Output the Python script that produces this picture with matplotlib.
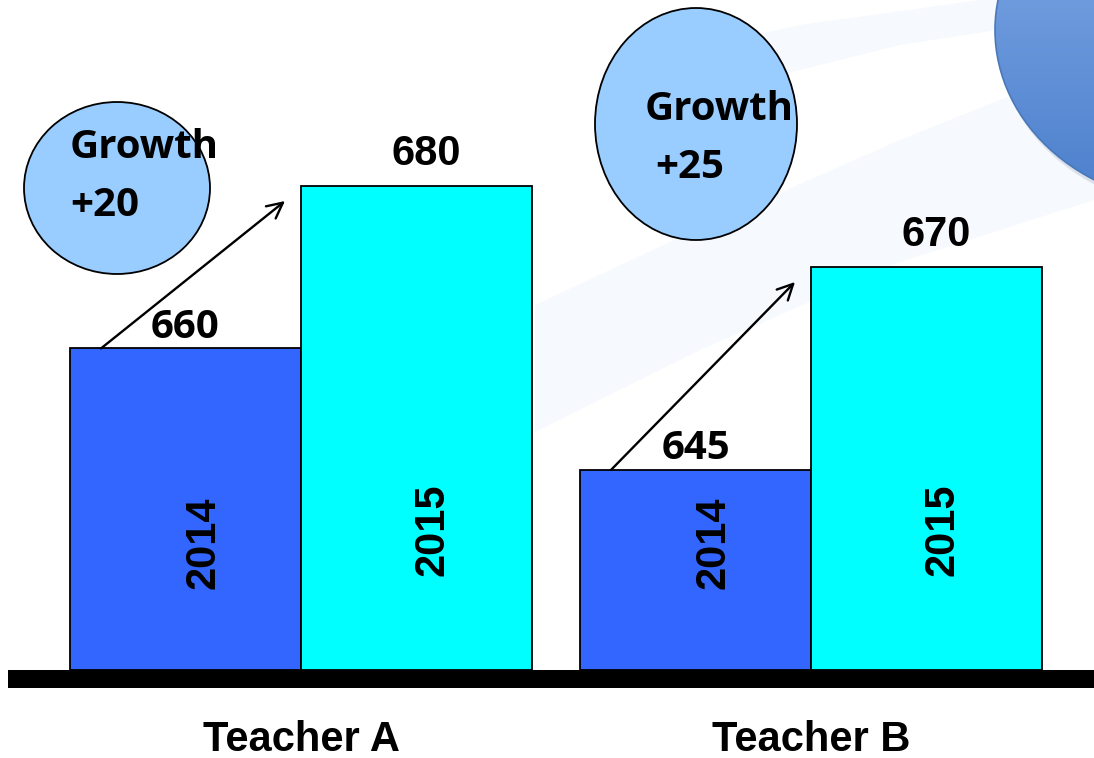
import numpy as np
import matplotlib.pyplot as plt
from matplotlib.colors import LinearSegmentedColormap
from matplotlib.patches import Ellipse, Rectangle, Polygon

# scores per teacher and year
teachers = ['Teacher A', 'Teacher B']
years = ['2014', '2015']
scores_2014 = [660, 645]
scores_2015 = [680, 670]
growth = [20, 25]

W, H = 1094, 758
fig = plt.figure(figsize=(W / 100, H / 100), dpi=100)
fig.patch.set_facecolor('white')

# background layer in pixel coordinates
bg = fig.add_axes([0, 0, 1, 1])
bg.axis('off')

# faint swoosh bands
band1 = [(535, 305), (700, 228), (900, 140), (1094, 62),
         (1094, 200), (900, 262), (700, 350), (535, 432)]
band2 = [(600, 70), (800, 25), (980, 0), (1094, 0),
         (1094, 15), (900, 45), (700, 95), (600, 125)]
for band in (band1, band2):
    bg.add_patch(Polygon(band, closed=True, facecolor='#f6f9fd',
                         edgecolor='none', zorder=0))

# blue ball in the corner with a soft shadow
bg.add_patch(Ellipse((1203, 35), 412, 352, facecolor='#c9d2de',
                     edgecolor='none', alpha=0.6, zorder=1))
ball_cmap = LinearSegmentedColormap.from_list('ball', ['#88afeb', '#4a7ecb'])
grad = np.linspace(0, 1, 256).reshape(-1, 1)
img = bg.imshow(grad, cmap=ball_cmap, extent=(990, 1410, 210, -150),
                aspect='auto', zorder=2)
img.set_clip_path(Ellipse((1200, 30), 410, 350, transform=bg.transData))
bg.add_patch(Ellipse((1200, 30), 410, 350, facecolor='none',
                     edgecolor='#4a78b8', lw=1.2, zorder=3))
bg.set_xlim(0, W)
bg.set_ylim(H, 0)

# ground bar
bg.add_patch(Rectangle((8, 670), W - 8, 18, facecolor='black',
                       edgecolor='none', zorder=2))

# growth bubbles
bubbles = [((117, 188), 186, 172), ((696, 124), 202, 232)]
word_pos = [(70, 148), (645, 110)]
num_pos = [(70, 205), (655, 167)]
for (c, w, h), wp, npos, g in zip(bubbles, word_pos, num_pos, growth):
    bg.add_patch(Ellipse(c, w, h, facecolor='#99ccff', edgecolor='black',
                         lw=1.3, zorder=3))
    bg.text(*wp, 'Growth', fontsize=29, fontweight='bold', family='Open Sans',
            va='center', ha='left', zorder=4)
    bg.text(*npos, '+%d' % g, fontsize=29, fontweight='bold',
            family='Open Sans', va='center', ha='left', zorder=4)

# bar chart, x measured in pixels, y in score units
base_px = 670
px_per_unit = 8.1
y0 = 620.3
ax = fig.add_axes([0, (H - base_px) / H, 1, base_px / H])
ax.patch.set_visible(False)
ax.set_xlim(0, W)
ax.set_ylim(y0, y0 + base_px / px_per_unit)
ax.axis('off')

bar_w = 231
left_2014 = np.array([70, 580])
left_2015 = left_2014 + bar_w
ax.bar(left_2014, np.array(scores_2014) - y0, width=bar_w, bottom=y0,
       align='edge', color='#3366ff', edgecolor='black', lw=1.3, zorder=2)
ax.bar(left_2015, np.array(scores_2015) - y0, width=bar_w, bottom=y0,
       align='edge', color='#00ffff', edgecolor='black', lw=1.3, zorder=2)

for i in range(len(teachers)):
    x14 = left_2014[i] + bar_w / 2
    x15 = left_2015[i] + bar_w / 2
    ax.text(x14, scores_2014[i] + 0.2, str(scores_2014[i]), ha='center',
            va='bottom', fontsize=29, fontweight='bold', family='Open Sans')
    ax.text(x15 + 10, scores_2015[i] + 1.5, str(scores_2015[i]), ha='center',
            va='bottom', fontsize=30, fontweight='bold',
            family='Liberation Sans')
    ax.text(x14 + 18, 0.19, years[0], transform=ax.get_xaxis_transform(),
            rotation=90, ha='center', va='center', fontsize=30,
            fontweight='bold', family='Liberation Sans')
    ax.text(x15 + 16, 0.21, years[1], transform=ax.get_xaxis_transform(),
            rotation=90, ha='center', va='center', fontsize=30,
            fontweight='bold', family='Liberation Sans')
    # growth arrow from the 2014 bar towards the 2015 bar
    ax.annotate('', xy=(left_2015[i] - 16, scores_2015[i] - 1.8),
                xytext=(left_2014[i] + 31, scores_2014[i]),
                arrowprops=dict(arrowstyle='->', lw=1.7, color='black',
                                mutation_scale=28, shrinkA=0, shrinkB=0),
                zorder=3)
    # teacher name under the ground bar
    bg.text((left_2014[i] + left_2015[i] + bar_w) / 2, 740, teachers[i],
            ha='center', va='center', fontsize=30, fontweight='bold',
            family='Liberation Sans')

fig.savefig('out.png', dpi=100)
